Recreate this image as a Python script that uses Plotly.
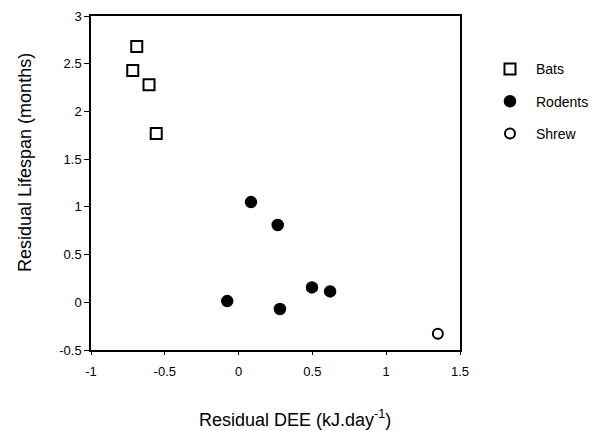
import plotly.graph_objects as go

bats_x = [-0.69, -0.717, -0.607, -0.558]
bats_y = [2.68, 2.43, 2.28, 1.77]
rod_x = [0.084, 0.265, -0.077, 0.28, 0.497, 0.62]
rod_y = [1.05, 0.81, 0.013, -0.07, 0.156, 0.114]
shrew_x = [1.35]
shrew_y = [-0.33]

x_ticks = [-1, -0.5, 0, 0.5, 1, 1.5]
x_labels = ["-1", "-0.5", "0", "0.5", "1", "1.5"]
y_ticks = [-0.5, 0, 0.5, 1, 1.5, 2, 2.5, 3]
y_labels = ["-0.5", "0", "0.5", "1", "1.5", "2", "2.5", "3"]

FONT = "Liberation Sans, Arial"

fig = go.Figure()
fig.add_trace(go.Scatter(x=bats_x, y=bats_y, mode="markers", name="Bats", legendgroup="a",
                         marker=dict(symbol="square-open", size=11, color="black", line=dict(width=2, color="black"))))
fig.add_trace(go.Scatter(x=rod_x, y=rod_y, mode="markers", name="Rodents", legendgroup="b",
                         marker=dict(symbol="circle", size=12.5, color="black")))
fig.add_trace(go.Scatter(x=shrew_x, y=shrew_y, mode="markers", name="Shrew", legendgroup="c",
                         marker=dict(symbol="circle-open", size=10, color="black", line=dict(width=2, color="black"))))

axis_common = dict(showgrid=False, zeroline=False, showline=True, linecolor="black", linewidth=1.5,
                   mirror=True, tickfont=dict(family=FONT, size=13, color="black"), tickcolor="black")
fig.update_xaxes(range=[-1, 1.5], tickvals=x_ticks, ticktext=x_labels, ticks="outside", ticklen=3,
                 ticklabelstandoff=6, **axis_common)
fig.update_yaxes(range=[-0.5, 3], tickvals=y_ticks, ticktext=y_labels, ticks="outside", ticklen=5,
                 **axis_common)

fig.add_annotation(text="Residual DEE (kJ.day<sup>-1</sup>)", xref="paper", yref="paper",
                   x=0.5528, y=-0.2036, xanchor="center", yanchor="middle", showarrow=False,
                   font=dict(family=FONT, size=18, color="black"))
fig.add_annotation(text="Residual Lifespan (months)", xref="paper", yref="paper",
                   x=-0.1789, y=0.5629, xanchor="center", yanchor="middle", textangle=-90,
                   showarrow=False, font=dict(family=FONT, size=18, color="black"))

fig.update_layout(
    width=601, height=431,
    margin=dict(l=83, r=149, t=8, b=89, autoexpand=False),
    plot_bgcolor="white", paper_bgcolor="white",
    showlegend=True,
    legend=dict(x=1.065, y=0.888, xanchor="left", yanchor="top", tracegroupgap=11, itemwidth=42,
                font=dict(family=FONT, size=14, color="black"),
                bgcolor="rgba(0,0,0,0)"),
)
fig.write_html("out.html")
